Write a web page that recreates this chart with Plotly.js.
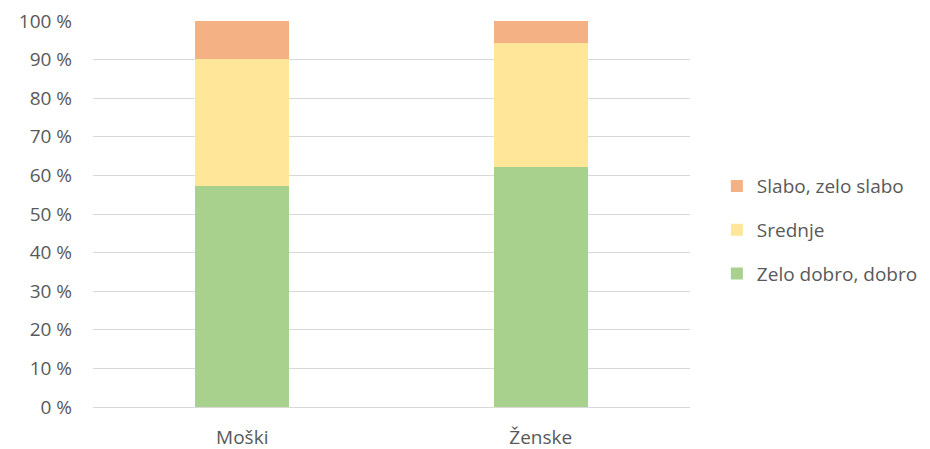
<!DOCTYPE html>
<html><head><meta charset="utf-8">
<script src="https://cdn.plot.ly/plotly-3.0.1.min.js"></script>
<style>body{margin:0;background:#fff}#c{width:930px;height:449px}</style>
</head><body><div id="c"></div>
<script>
const categories = ["Moški", "Ženske"];
const seriesNames = ["Zelo dobro, dobro", "Srednje", "Slabo, zelo slabo"];
const goodValues = [57.3, 62.3];
const mediumValues = [32.9, 32.0];
const poorValues = [9.8, 5.7];
const colors = ["#A9D18E", "#FFE699", "#F4B183"];
const tickVals = [0,10,20,30,40,50,60,70,80,90,100];
const tickText = tickVals.map(v => v + " %");

const seriesValues = [goodValues, mediumValues, poorValues];
const traces = seriesValues.map((vals, i) => ({
  type: "bar", x: categories, y: vals, name: seriesNames[i],
  marker: {color: colors[i], line: {width: 0}},
  legendgroup: "g" + i, legendrank: 10 - i, hoverinfo: "skip"
}));
const layout = {
  width: 930, height: 449, barmode: "stack", bargap: 0.684,
  margin: {l: 93, r: 240, t: 21, b: 42, autoexpand: false},
  paper_bgcolor: "#fff", plot_bgcolor: "#fff",
  font: {family: "'Open Sans', sans-serif", size: 19, color: "#595959"},
  xaxis: {showgrid: false, showline: true, linecolor: "#d9d9d9", linewidth: 1, ticks: "", ticklabelstandoff: 13,
          tickfont: {size: 19, color: "#595959"}},
  yaxis: {range: [0, 100], tickvals: tickVals, ticktext: tickText, showgrid: true, gridcolor: "#d9d9d9", gridwidth: 1,
          zeroline: false, ticks: "", ticklen: 0, ticklabelstandoff: 20, tickfont: {size: 19, color: "#595959"}, automargin: false},
  legend: {x: 1.045, xanchor: "left", xref: "paper", y: 0.458, yanchor: "middle", traceorder: "grouped",
           tracegroupgap: 16, font: {size: 19, color: "#595959"}, itemwidth: 30},
  showlegend: true
};
Plotly.newPlot("c", traces, layout, {displayModeBar: false, staticPlot: true});
</script></body></html>
